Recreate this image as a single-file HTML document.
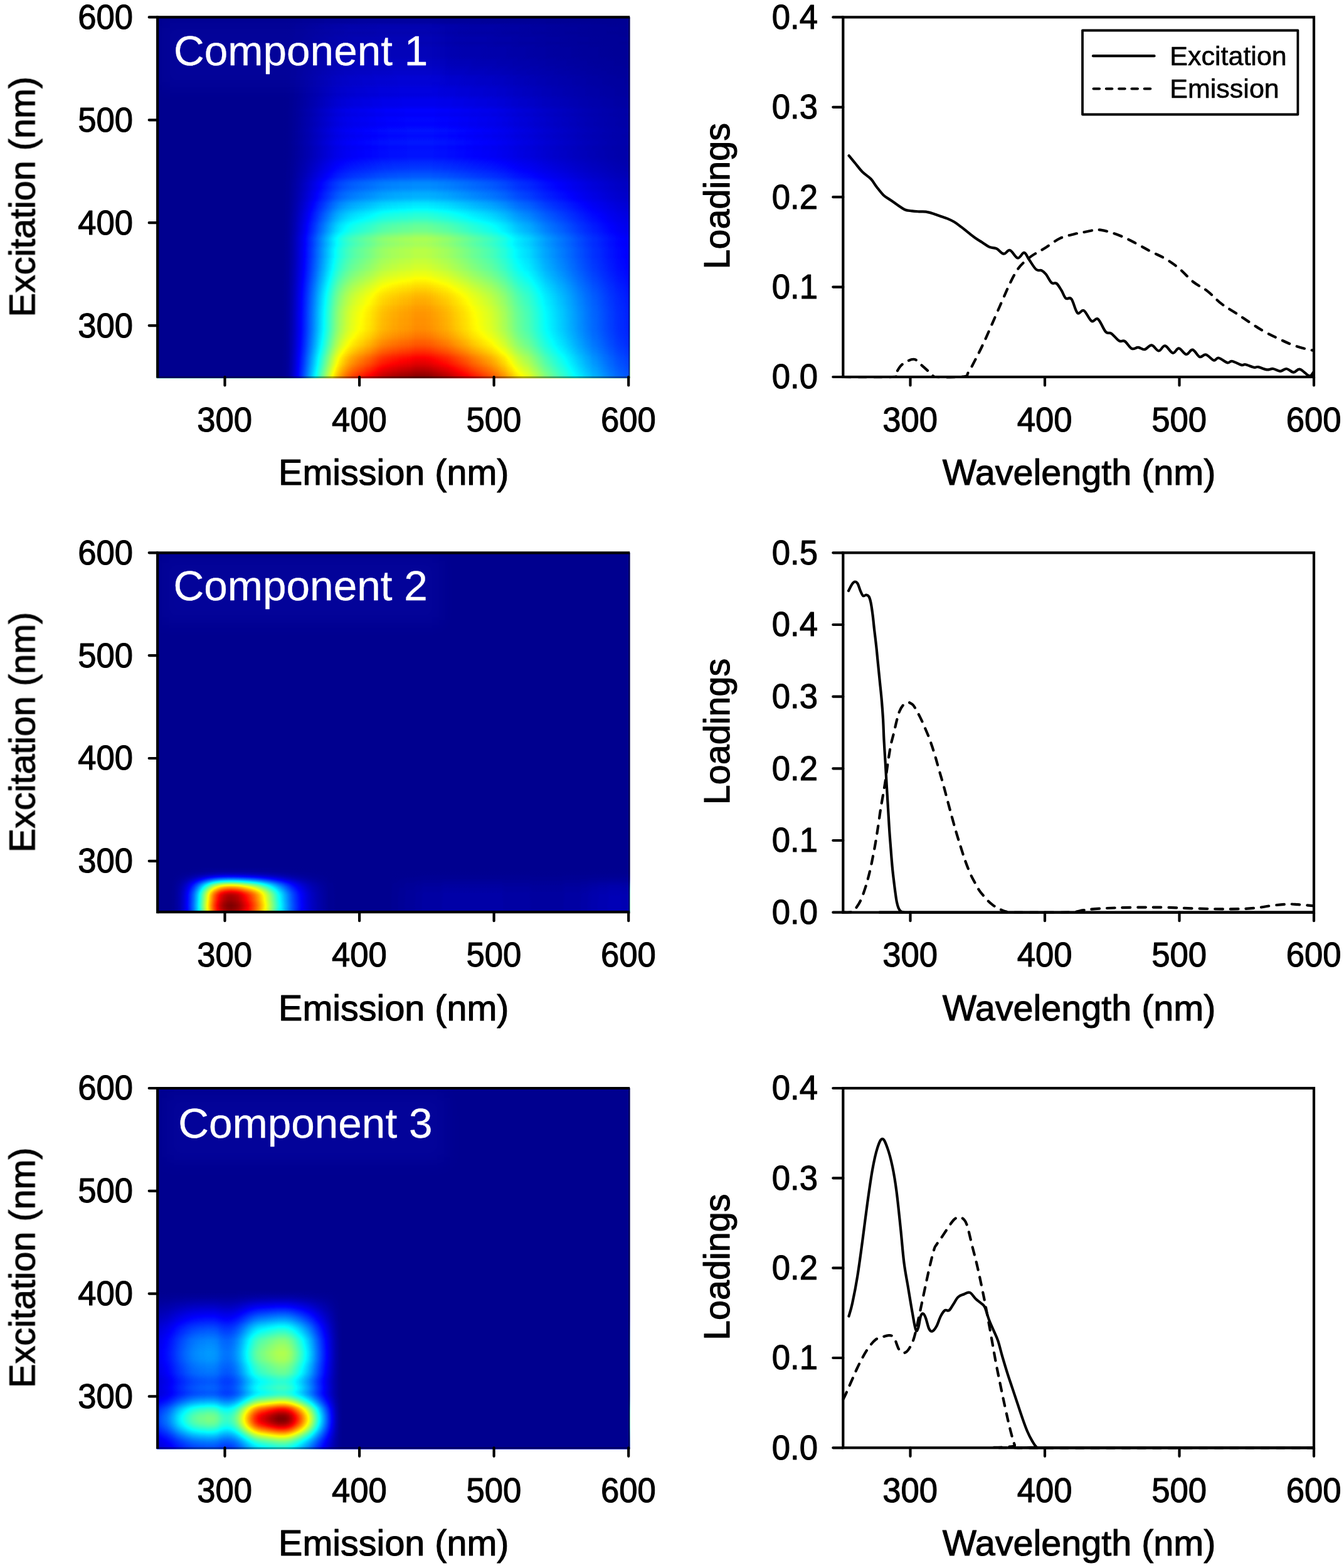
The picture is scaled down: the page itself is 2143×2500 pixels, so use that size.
<!DOCTYPE html>
<html lang="en"><head><meta charset="utf-8"><title>PARAFAC components</title>
<style>html,body{margin:0;padding:0;background:#fff}svg{display:block}text{font-family:"Liberation Sans", Arial, Helvetica, sans-serif;fill:#000;stroke:#000;stroke-width:1.1px;stroke-linejoin:round}.ax{stroke:#000;stroke-width:4.20;fill:none;stroke-linecap:round}.ln{stroke:#000;stroke-width:4.20;fill:none;stroke-linejoin:round;stroke-linecap:round}.ds{stroke:#000;stroke-width:4.20;fill:none;stroke-linejoin:round;stroke-linecap:round;stroke-dasharray:12.6 12}.tk{font-size:54px}.tt{font-size:57.5px}.cp{font-size:67.5px;fill:#fff;stroke:#fff;stroke-width:.3px}.lg{font-size:43px;stroke-width:.6px}</style></head><body>
<svg width="2143" height="2500" viewBox="0 0 2143 2500">
<defs>
<filter id="jet" x="0" y="0" width="100%" height="100%" color-interpolation-filters="sRGB"><feComponentTransfer><feFuncR type="table" tableValues="0 0 0 0 0 0 0 0 0 0 0 0 0 0 0 0 0 0 0 0 0 0 0 0 0.0625 0.125 0.1875 0.25 0.3125 0.375 0.4375 0.5 0.5625 0.625 0.6875 0.75 0.8125 0.875 0.9375 1 1 1 1 1 1 1 1 1 1 1 1 1 1 1 1 1 0.9375 0.875 0.8125 0.75 0.6875 0.625 0.5625 0.5"/><feFuncG type="table" tableValues="0 0 0 0 0 0 0 0 0.0625 0.125 0.1875 0.25 0.3125 0.375 0.4375 0.5 0.5625 0.625 0.6875 0.75 0.8125 0.875 0.9375 1 1 1 1 1 1 1 1 1 1 1 1 1 1 1 1 1 0.9375 0.875 0.8125 0.75 0.6875 0.625 0.5625 0.5 0.4375 0.375 0.3125 0.25 0.1875 0.125 0.0625 0 0 0 0 0 0 0 0 0"/><feFuncB type="table" tableValues="0.5625 0.625 0.6875 0.75 0.8125 0.875 0.9375 1 1 1 1 1 1 1 1 1 1 1 1 1 1 1 1 1 0.9375 0.875 0.8125 0.75 0.6875 0.625 0.5625 0.5 0.4375 0.375 0.3125 0.25 0.1875 0.125 0.0625 0 0 0 0 0 0 0 0 0 0 0 0 0 0 0 0 0 0 0 0 0 0 0 0 0"/></feComponentTransfer></filter>
<filter id="soft" filterUnits="userSpaceOnUse" x="0" y="0" width="2143" height="2500"><feGaussianBlur stdDeviation="0.6"/></filter>
<filter id="halo" x="-15%" y="-50%" width="130%" height="200%"><feGaussianBlur stdDeviation="14"/></filter>
<clipPath id="hc0"><rect x="253.2" y="29.4" width="751.0" height="573.6"/></clipPath>
<clipPath id="hc1"><rect x="253.2" y="883.3" width="751.0" height="573.4"/></clipPath>
<clipPath id="hc2"><rect x="253.2" y="1737.0" width="751.0" height="573.3"/></clipPath>
<linearGradient id="em0" x1="0" y1="0" x2="1" y2="0"><stop offset="0.0000" stop-opacity="1.0000"/><stop offset="0.2643" stop-opacity="1.0000"/><stop offset="0.2714" stop-opacity=".9961"/><stop offset="0.2786" stop-opacity=".9843"/><stop offset="0.2857" stop-opacity=".9569"/><stop offset="0.2929" stop-opacity=".9216"/><stop offset="0.3000" stop-opacity=".8784"/><stop offset="0.3071" stop-opacity=".8353"/><stop offset="0.3143" stop-opacity=".7882"/><stop offset="0.3214" stop-opacity=".7373"/><stop offset="0.3286" stop-opacity=".6863"/><stop offset="0.3357" stop-opacity=".6353"/><stop offset="0.3429" stop-opacity=".5804"/><stop offset="0.3500" stop-opacity=".5294"/><stop offset="0.3571" stop-opacity=".4784"/><stop offset="0.3643" stop-opacity=".4275"/><stop offset="0.3714" stop-opacity=".3765"/><stop offset="0.3786" stop-opacity=".3294"/><stop offset="0.3857" stop-opacity=".2902"/><stop offset="0.3929" stop-opacity=".2588"/><stop offset="0.4000" stop-opacity=".2314"/><stop offset="0.4071" stop-opacity=".2078"/><stop offset="0.4143" stop-opacity=".1882"/><stop offset="0.4214" stop-opacity=".1725"/><stop offset="0.4286" stop-opacity=".1569"/><stop offset="0.4357" stop-opacity=".1451"/><stop offset="0.4429" stop-opacity=".1294"/><stop offset="0.4500" stop-opacity=".1176"/><stop offset="0.4571" stop-opacity=".1020"/><stop offset="0.4643" stop-opacity=".0863"/><stop offset="0.4714" stop-opacity=".0706"/><stop offset="0.4786" stop-opacity=".0588"/><stop offset="0.4857" stop-opacity=".0510"/><stop offset="0.4929" stop-opacity=".0431"/><stop offset="0.5000" stop-opacity=".0353"/><stop offset="0.5071" stop-opacity=".0314"/><stop offset="0.5143" stop-opacity=".0235"/><stop offset="0.5214" stop-opacity=".0196"/><stop offset="0.5286" stop-opacity=".0157"/><stop offset="0.5357" stop-opacity=".0118"/><stop offset="0.5429" stop-opacity=".0039"/><stop offset="0.5500" stop-opacity=".0000"/><stop offset="0.5643" stop-opacity=".0000"/><stop offset="0.5714" stop-opacity=".0039"/><stop offset="0.5786" stop-opacity=".0078"/><stop offset="0.5857" stop-opacity=".0157"/><stop offset="0.5929" stop-opacity=".0235"/><stop offset="0.6000" stop-opacity=".0314"/><stop offset="0.6071" stop-opacity=".0392"/><stop offset="0.6143" stop-opacity=".0471"/><stop offset="0.6214" stop-opacity=".0588"/><stop offset="0.6286" stop-opacity=".0706"/><stop offset="0.6357" stop-opacity=".0824"/><stop offset="0.6429" stop-opacity=".0941"/><stop offset="0.6500" stop-opacity=".1059"/><stop offset="0.6571" stop-opacity=".1176"/><stop offset="0.6643" stop-opacity=".1333"/><stop offset="0.6714" stop-opacity=".1451"/><stop offset="0.6786" stop-opacity=".1569"/><stop offset="0.6857" stop-opacity=".1686"/><stop offset="0.6929" stop-opacity=".1804"/><stop offset="0.7000" stop-opacity=".1922"/><stop offset="0.7071" stop-opacity=".2039"/><stop offset="0.7143" stop-opacity=".2196"/><stop offset="0.7214" stop-opacity=".2353"/><stop offset="0.7286" stop-opacity=".2549"/><stop offset="0.7357" stop-opacity=".2706"/><stop offset="0.7429" stop-opacity=".2941"/><stop offset="0.7500" stop-opacity=".3137"/><stop offset="0.7571" stop-opacity=".3373"/><stop offset="0.7643" stop-opacity=".3569"/><stop offset="0.7714" stop-opacity=".3725"/><stop offset="0.7786" stop-opacity=".3882"/><stop offset="0.7857" stop-opacity=".4000"/><stop offset="0.7929" stop-opacity=".4196"/><stop offset="0.8000" stop-opacity=".4392"/><stop offset="0.8071" stop-opacity=".4588"/><stop offset="0.8143" stop-opacity=".4784"/><stop offset="0.8214" stop-opacity=".4980"/><stop offset="0.8286" stop-opacity=".5137"/><stop offset="0.8357" stop-opacity=".5294"/><stop offset="0.8429" stop-opacity=".5451"/><stop offset="0.8500" stop-opacity=".5608"/><stop offset="0.8571" stop-opacity=".5725"/><stop offset="0.8643" stop-opacity=".5882"/><stop offset="0.8714" stop-opacity=".6039"/><stop offset="0.8786" stop-opacity=".6196"/><stop offset="0.8857" stop-opacity=".6353"/><stop offset="0.8929" stop-opacity=".6510"/><stop offset="0.9000" stop-opacity=".6627"/><stop offset="0.9071" stop-opacity=".6784"/><stop offset="0.9143" stop-opacity=".6902"/><stop offset="0.9214" stop-opacity=".7059"/><stop offset="0.9286" stop-opacity=".7137"/><stop offset="0.9357" stop-opacity=".7255"/><stop offset="0.9429" stop-opacity=".7373"/><stop offset="0.9500" stop-opacity=".7490"/><stop offset="0.9571" stop-opacity=".7608"/><stop offset="0.9643" stop-opacity=".7686"/><stop offset="0.9714" stop-opacity=".7804"/><stop offset="0.9786" stop-opacity=".7882"/><stop offset="0.9857" stop-opacity=".7922"/><stop offset="0.9929" stop-opacity=".8000"/><stop offset="1.0000" stop-opacity=".8039"/></linearGradient>
<linearGradient id="ex0" x1="0" y1="0" x2="0" y2="1"><stop offset="0.0000" stop-color="rgb(5,5,5)"/><stop offset="0.0071" stop-color="rgb(3,3,3)"/><stop offset="0.0143" stop-color="rgb(3,3,3)"/><stop offset="0.0214" stop-color="rgb(6,6,6)"/><stop offset="0.0286" stop-color="rgb(7,7,7)"/><stop offset="0.0357" stop-color="rgb(7,7,7)"/><stop offset="0.0429" stop-color="rgb(6,6,6)"/><stop offset="0.0500" stop-color="rgb(7,7,7)"/><stop offset="0.0571" stop-color="rgb(8,8,8)"/><stop offset="0.0643" stop-color="rgb(8,8,8)"/><stop offset="0.0714" stop-color="rgb(7,7,7)"/><stop offset="0.0786" stop-color="rgb(8,8,8)"/><stop offset="0.0857" stop-color="rgb(9,9,9)"/><stop offset="0.1071" stop-color="rgb(9,9,9)"/><stop offset="0.1143" stop-color="rgb(10,10,10)"/><stop offset="0.1214" stop-color="rgb(11,11,11)"/><stop offset="0.1286" stop-color="rgb(11,11,11)"/><stop offset="0.1357" stop-color="rgb(12,12,12)"/><stop offset="0.1429" stop-color="rgb(13,13,13)"/><stop offset="0.1500" stop-color="rgb(14,14,14)"/><stop offset="0.1571" stop-color="rgb(14,14,14)"/><stop offset="0.1643" stop-color="rgb(16,16,16)"/><stop offset="0.1714" stop-color="rgb(17,17,17)"/><stop offset="0.1857" stop-color="rgb(17,17,17)"/><stop offset="0.1929" stop-color="rgb(19,19,19)"/><stop offset="0.2000" stop-color="rgb(20,20,20)"/><stop offset="0.2143" stop-color="rgb(20,20,20)"/><stop offset="0.2214" stop-color="rgb(22,22,22)"/><stop offset="0.2286" stop-color="rgb(24,24,24)"/><stop offset="0.2429" stop-color="rgb(24,24,24)"/><stop offset="0.2500" stop-color="rgb(26,26,26)"/><stop offset="0.2571" stop-color="rgb(29,29,29)"/><stop offset="0.2643" stop-color="rgb(28,28,28)"/><stop offset="0.2714" stop-color="rgb(27,27,27)"/><stop offset="0.2786" stop-color="rgb(29,29,29)"/><stop offset="0.2857" stop-color="rgb(30,30,30)"/><stop offset="0.2929" stop-color="rgb(29,29,29)"/><stop offset="0.3000" stop-color="rgb(29,29,29)"/><stop offset="0.3071" stop-color="rgb(31,31,31)"/><stop offset="0.3143" stop-color="rgb(33,33,33)"/><stop offset="0.3214" stop-color="rgb(32,32,32)"/><stop offset="0.3286" stop-color="rgb(31,31,31)"/><stop offset="0.3357" stop-color="rgb(32,32,32)"/><stop offset="0.3429" stop-color="rgb(34,34,34)"/><stop offset="0.3500" stop-color="rgb(34,34,34)"/><stop offset="0.3571" stop-color="rgb(32,32,32)"/><stop offset="0.3643" stop-color="rgb(32,32,32)"/><stop offset="0.3714" stop-color="rgb(33,33,33)"/><stop offset="0.3857" stop-color="rgb(33,33,33)"/><stop offset="0.3929" stop-color="rgb(35,35,35)"/><stop offset="0.4000" stop-color="rgb(38,38,38)"/><stop offset="0.4071" stop-color="rgb(40,40,40)"/><stop offset="0.4143" stop-color="rgb(42,42,42)"/><stop offset="0.4214" stop-color="rgb(44,44,44)"/><stop offset="0.4286" stop-color="rgb(47,47,47)"/><stop offset="0.4357" stop-color="rgb(50,50,50)"/><stop offset="0.4429" stop-color="rgb(52,52,52)"/><stop offset="0.4500" stop-color="rgb(57,57,57)"/><stop offset="0.4571" stop-color="rgb(62,62,62)"/><stop offset="0.4643" stop-color="rgb(64,64,64)"/><stop offset="0.4714" stop-color="rgb(64,64,64)"/><stop offset="0.4786" stop-color="rgb(67,67,67)"/><stop offset="0.4857" stop-color="rgb(71,71,71)"/><stop offset="0.4929" stop-color="rgb(73,73,73)"/><stop offset="0.5000" stop-color="rgb(74,74,74)"/><stop offset="0.5071" stop-color="rgb(79,79,79)"/><stop offset="0.5143" stop-color="rgb(85,85,85)"/><stop offset="0.5214" stop-color="rgb(88,88,88)"/><stop offset="0.5286" stop-color="rgb(91,91,91)"/><stop offset="0.5357" stop-color="rgb(96,96,96)"/><stop offset="0.5429" stop-color="rgb(101,101,101)"/><stop offset="0.5500" stop-color="rgb(104,104,104)"/><stop offset="0.5571" stop-color="rgb(107,107,107)"/><stop offset="0.5643" stop-color="rgb(111,111,111)"/><stop offset="0.5714" stop-color="rgb(116,116,116)"/><stop offset="0.5786" stop-color="rgb(119,119,119)"/><stop offset="0.5857" stop-color="rgb(121,121,121)"/><stop offset="0.5929" stop-color="rgb(123,123,123)"/><stop offset="0.6000" stop-color="rgb(128,128,128)"/><stop offset="0.6071" stop-color="rgb(133,133,133)"/><stop offset="0.6143" stop-color="rgb(137,137,137)"/><stop offset="0.6214" stop-color="rgb(136,136,136)"/><stop offset="0.6286" stop-color="rgb(135,135,135)"/><stop offset="0.6357" stop-color="rgb(137,137,137)"/><stop offset="0.6429" stop-color="rgb(140,140,140)"/><stop offset="0.6643" stop-color="rgb(140,140,140)"/><stop offset="0.6714" stop-color="rgb(143,143,143)"/><stop offset="0.6786" stop-color="rgb(144,144,144)"/><stop offset="0.6857" stop-color="rgb(146,146,146)"/><stop offset="0.6929" stop-color="rgb(147,147,147)"/><stop offset="0.7000" stop-color="rgb(149,149,149)"/><stop offset="0.7071" stop-color="rgb(152,152,152)"/><stop offset="0.7143" stop-color="rgb(154,154,154)"/><stop offset="0.7214" stop-color="rgb(157,157,157)"/><stop offset="0.7286" stop-color="rgb(160,160,160)"/><stop offset="0.7357" stop-color="rgb(163,163,163)"/><stop offset="0.7429" stop-color="rgb(166,166,166)"/><stop offset="0.7500" stop-color="rgb(169,169,169)"/><stop offset="0.7571" stop-color="rgb(171,171,171)"/><stop offset="0.7643" stop-color="rgb(174,174,174)"/><stop offset="0.7714" stop-color="rgb(176,176,176)"/><stop offset="0.7786" stop-color="rgb(178,178,178)"/><stop offset="0.7857" stop-color="rgb(179,179,179)"/><stop offset="0.7929" stop-color="rgb(180,180,180)"/><stop offset="0.8000" stop-color="rgb(182,182,182)"/><stop offset="0.8071" stop-color="rgb(183,183,183)"/><stop offset="0.8143" stop-color="rgb(184,184,184)"/><stop offset="0.8214" stop-color="rgb(185,185,185)"/><stop offset="0.8286" stop-color="rgb(185,185,185)"/><stop offset="0.8357" stop-color="rgb(186,186,186)"/><stop offset="0.8500" stop-color="rgb(186,186,186)"/><stop offset="0.8571" stop-color="rgb(187,187,187)"/><stop offset="0.8643" stop-color="rgb(187,187,187)"/><stop offset="0.8714" stop-color="rgb(189,189,189)"/><stop offset="0.8786" stop-color="rgb(191,191,191)"/><stop offset="0.8857" stop-color="rgb(193,193,193)"/><stop offset="0.8929" stop-color="rgb(196,196,196)"/><stop offset="0.9000" stop-color="rgb(199,199,199)"/><stop offset="0.9071" stop-color="rgb(201,201,201)"/><stop offset="0.9143" stop-color="rgb(205,205,205)"/><stop offset="0.9214" stop-color="rgb(209,209,209)"/><stop offset="0.9286" stop-color="rgb(213,213,213)"/><stop offset="0.9357" stop-color="rgb(218,218,218)"/><stop offset="0.9429" stop-color="rgb(223,223,223)"/><stop offset="0.9500" stop-color="rgb(226,226,226)"/><stop offset="0.9571" stop-color="rgb(229,229,229)"/><stop offset="0.9643" stop-color="rgb(233,233,233)"/><stop offset="0.9714" stop-color="rgb(238,238,238)"/><stop offset="0.9786" stop-color="rgb(242,242,242)"/><stop offset="0.9857" stop-color="rgb(247,247,247)"/><stop offset="0.9929" stop-color="rgb(252,252,252)"/><stop offset="1.0000" stop-color="rgb(255,255,255)"/></linearGradient>
<linearGradient id="em1" x1="0" y1="0" x2="1" y2="0"><stop offset="0.0000" stop-opacity="1.0000"/><stop offset="0.0286" stop-opacity="1.0000"/><stop offset="0.0357" stop-opacity=".9961"/><stop offset="0.0429" stop-opacity=".9843"/><stop offset="0.0500" stop-opacity=".9647"/><stop offset="0.0571" stop-opacity=".9333"/><stop offset="0.0643" stop-opacity=".8902"/><stop offset="0.0714" stop-opacity=".8353"/><stop offset="0.0786" stop-opacity=".7686"/><stop offset="0.0857" stop-opacity=".6863"/><stop offset="0.0929" stop-opacity=".5882"/><stop offset="0.1000" stop-opacity=".4863"/><stop offset="0.1071" stop-opacity=".3843"/><stop offset="0.1143" stop-opacity=".2824"/><stop offset="0.1214" stop-opacity=".1922"/><stop offset="0.1286" stop-opacity=".1216"/><stop offset="0.1357" stop-opacity=".0627"/><stop offset="0.1429" stop-opacity=".0275"/><stop offset="0.1500" stop-opacity=".0078"/><stop offset="0.1571" stop-opacity=".0000"/><stop offset="0.1643" stop-opacity=".0078"/><stop offset="0.1714" stop-opacity=".0235"/><stop offset="0.1786" stop-opacity=".0510"/><stop offset="0.1857" stop-opacity=".0863"/><stop offset="0.1929" stop-opacity=".1216"/><stop offset="0.2000" stop-opacity=".1608"/><stop offset="0.2071" stop-opacity=".2039"/><stop offset="0.2143" stop-opacity=".2549"/><stop offset="0.2214" stop-opacity=".3098"/><stop offset="0.2286" stop-opacity=".3686"/><stop offset="0.2357" stop-opacity=".4275"/><stop offset="0.2429" stop-opacity=".4863"/><stop offset="0.2500" stop-opacity=".5451"/><stop offset="0.2571" stop-opacity=".6039"/><stop offset="0.2643" stop-opacity=".6549"/><stop offset="0.2714" stop-opacity=".7059"/><stop offset="0.2786" stop-opacity=".7529"/><stop offset="0.2857" stop-opacity=".7961"/><stop offset="0.2929" stop-opacity=".8314"/><stop offset="0.3000" stop-opacity=".8627"/><stop offset="0.3071" stop-opacity=".8902"/><stop offset="0.3143" stop-opacity=".9137"/><stop offset="0.3214" stop-opacity=".9333"/><stop offset="0.3286" stop-opacity=".9490"/><stop offset="0.3357" stop-opacity=".9608"/><stop offset="0.3429" stop-opacity=".9725"/><stop offset="0.3500" stop-opacity=".9804"/><stop offset="0.3571" stop-opacity=".9882"/><stop offset="0.3643" stop-opacity=".9961"/><stop offset="0.3714" stop-opacity=".9961"/><stop offset="0.3786" stop-opacity="1.0000"/><stop offset="0.4929" stop-opacity="1.0000"/><stop offset="0.5000" stop-opacity=".9961"/><stop offset="0.5071" stop-opacity=".9961"/><stop offset="0.5143" stop-opacity=".9922"/><stop offset="0.5214" stop-opacity=".9922"/><stop offset="0.5286" stop-opacity=".9882"/><stop offset="0.5429" stop-opacity=".9882"/><stop offset="0.5500" stop-opacity=".9843"/><stop offset="0.5571" stop-opacity=".9843"/><stop offset="0.5643" stop-opacity=".9804"/><stop offset="0.6000" stop-opacity=".9804"/><stop offset="0.6071" stop-opacity=".9765"/><stop offset="0.7286" stop-opacity=".9765"/><stop offset="0.7357" stop-opacity=".9804"/><stop offset="0.7857" stop-opacity=".9804"/><stop offset="0.7929" stop-opacity=".9843"/><stop offset="0.8571" stop-opacity=".9843"/><stop offset="0.8643" stop-opacity=".9804"/><stop offset="0.8929" stop-opacity=".9804"/><stop offset="0.9000" stop-opacity=".9765"/><stop offset="0.9071" stop-opacity=".9765"/><stop offset="0.9143" stop-opacity=".9725"/><stop offset="0.9214" stop-opacity=".9686"/><stop offset="0.9286" stop-opacity=".9686"/><stop offset="0.9357" stop-opacity=".9647"/><stop offset="0.9500" stop-opacity=".9647"/><stop offset="0.9571" stop-opacity=".9608"/><stop offset="0.9786" stop-opacity=".9608"/><stop offset="0.9857" stop-opacity=".9647"/><stop offset="1.0000" stop-opacity=".9647"/></linearGradient>
<linearGradient id="ex1" x1="0" y1="0" x2="0" y2="1"><stop offset="0.0000" stop-color="rgb(0,0,0)"/><stop offset="0.8714" stop-color="rgb(0,0,0)"/><stop offset="0.8786" stop-color="rgb(1,1,1)"/><stop offset="0.8857" stop-color="rgb(4,4,4)"/><stop offset="0.8929" stop-color="rgb(14,14,14)"/><stop offset="0.9000" stop-color="rgb(34,34,34)"/><stop offset="0.9071" stop-color="rgb(66,66,66)"/><stop offset="0.9143" stop-color="rgb(107,107,107)"/><stop offset="0.9214" stop-color="rgb(149,149,149)"/><stop offset="0.9286" stop-color="rgb(182,182,182)"/><stop offset="0.9357" stop-color="rgb(207,207,207)"/><stop offset="0.9429" stop-color="rgb(229,229,229)"/><stop offset="0.9500" stop-color="rgb(242,242,242)"/><stop offset="0.9571" stop-color="rgb(246,246,246)"/><stop offset="0.9643" stop-color="rgb(248,248,248)"/><stop offset="0.9714" stop-color="rgb(252,252,252)"/><stop offset="0.9786" stop-color="rgb(255,255,255)"/><stop offset="0.9857" stop-color="rgb(254,254,254)"/><stop offset="0.9929" stop-color="rgb(251,251,251)"/><stop offset="1.0000" stop-color="rgb(247,247,247)"/></linearGradient>
<linearGradient id="em2" x1="0" y1="0" x2="1" y2="0"><stop offset="0.0000" stop-opacity=".8275"/><stop offset="0.0071" stop-opacity=".8118"/><stop offset="0.0143" stop-opacity=".7922"/><stop offset="0.0214" stop-opacity=".7725"/><stop offset="0.0286" stop-opacity=".7451"/><stop offset="0.0357" stop-opacity=".7137"/><stop offset="0.0429" stop-opacity=".6784"/><stop offset="0.0500" stop-opacity=".6471"/><stop offset="0.0571" stop-opacity=".6196"/><stop offset="0.0643" stop-opacity=".5922"/><stop offset="0.0714" stop-opacity=".5686"/><stop offset="0.0786" stop-opacity=".5490"/><stop offset="0.0857" stop-opacity=".5373"/><stop offset="0.0929" stop-opacity=".5255"/><stop offset="0.1000" stop-opacity=".5216"/><stop offset="0.1071" stop-opacity=".5137"/><stop offset="0.1143" stop-opacity=".5137"/><stop offset="0.1214" stop-opacity=".5176"/><stop offset="0.1286" stop-opacity=".5333"/><stop offset="0.1357" stop-opacity=".5608"/><stop offset="0.1429" stop-opacity=".5765"/><stop offset="0.1500" stop-opacity=".5804"/><stop offset="0.1571" stop-opacity=".5686"/><stop offset="0.1643" stop-opacity=".5412"/><stop offset="0.1714" stop-opacity=".4980"/><stop offset="0.1786" stop-opacity=".4392"/><stop offset="0.1857" stop-opacity=".3725"/><stop offset="0.1929" stop-opacity=".3020"/><stop offset="0.2000" stop-opacity=".2353"/><stop offset="0.2071" stop-opacity=".1765"/><stop offset="0.2143" stop-opacity=".1333"/><stop offset="0.2214" stop-opacity=".1020"/><stop offset="0.2286" stop-opacity=".0824"/><stop offset="0.2357" stop-opacity=".0588"/><stop offset="0.2429" stop-opacity=".0392"/><stop offset="0.2500" stop-opacity=".0196"/><stop offset="0.2571" stop-opacity=".0039"/><stop offset="0.2643" stop-opacity=".0000"/><stop offset="0.2714" stop-opacity=".0039"/><stop offset="0.2786" stop-opacity=".0275"/><stop offset="0.2857" stop-opacity=".0667"/><stop offset="0.2929" stop-opacity=".1216"/><stop offset="0.3000" stop-opacity=".1804"/><stop offset="0.3071" stop-opacity=".2431"/><stop offset="0.3143" stop-opacity=".3137"/><stop offset="0.3214" stop-opacity=".3843"/><stop offset="0.3286" stop-opacity=".4627"/><stop offset="0.3357" stop-opacity=".5451"/><stop offset="0.3429" stop-opacity=".6235"/><stop offset="0.3500" stop-opacity=".6980"/><stop offset="0.3571" stop-opacity=".7686"/><stop offset="0.3643" stop-opacity=".8353"/><stop offset="0.3714" stop-opacity=".8980"/><stop offset="0.3786" stop-opacity=".9529"/><stop offset="0.3857" stop-opacity=".9882"/><stop offset="0.3929" stop-opacity="1.0000"/><stop offset="1.0000" stop-opacity="1.0000"/></linearGradient>
<linearGradient id="ex2" x1="0" y1="0" x2="0" y2="1"><stop offset="0.0000" stop-color="rgb(0,0,0)"/><stop offset="0.5571" stop-color="rgb(0,0,0)"/><stop offset="0.5643" stop-color="rgb(1,1,1)"/><stop offset="0.5714" stop-color="rgb(3,3,3)"/><stop offset="0.5786" stop-color="rgb(6,6,6)"/><stop offset="0.5857" stop-color="rgb(11,11,11)"/><stop offset="0.5929" stop-color="rgb(17,17,17)"/><stop offset="0.6000" stop-color="rgb(24,24,24)"/><stop offset="0.6071" stop-color="rgb(31,31,31)"/><stop offset="0.6143" stop-color="rgb(39,39,39)"/><stop offset="0.6214" stop-color="rgb(47,47,47)"/><stop offset="0.6286" stop-color="rgb(55,55,55)"/><stop offset="0.6357" stop-color="rgb(63,63,63)"/><stop offset="0.6429" stop-color="rgb(71,71,71)"/><stop offset="0.6500" stop-color="rgb(80,80,80)"/><stop offset="0.6571" stop-color="rgb(89,89,89)"/><stop offset="0.6643" stop-color="rgb(97,97,97)"/><stop offset="0.6714" stop-color="rgb(104,104,104)"/><stop offset="0.6786" stop-color="rgb(110,110,110)"/><stop offset="0.6857" stop-color="rgb(117,117,117)"/><stop offset="0.6929" stop-color="rgb(123,123,123)"/><stop offset="0.7000" stop-color="rgb(128,128,128)"/><stop offset="0.7071" stop-color="rgb(130,130,130)"/><stop offset="0.7143" stop-color="rgb(133,133,133)"/><stop offset="0.7214" stop-color="rgb(135,135,135)"/><stop offset="0.7286" stop-color="rgb(137,137,137)"/><stop offset="0.7357" stop-color="rgb(138,138,138)"/><stop offset="0.7429" stop-color="rgb(137,137,137)"/><stop offset="0.7500" stop-color="rgb(136,136,136)"/><stop offset="0.7571" stop-color="rgb(133,133,133)"/><stop offset="0.7643" stop-color="rgb(129,129,129)"/><stop offset="0.7714" stop-color="rgb(126,126,126)"/><stop offset="0.7786" stop-color="rgb(123,123,123)"/><stop offset="0.7857" stop-color="rgb(121,121,121)"/><stop offset="0.7929" stop-color="rgb(117,117,117)"/><stop offset="0.8000" stop-color="rgb(111,111,111)"/><stop offset="0.8071" stop-color="rgb(106,106,106)"/><stop offset="0.8143" stop-color="rgb(104,104,104)"/><stop offset="0.8214" stop-color="rgb(106,106,106)"/><stop offset="0.8286" stop-color="rgb(109,109,109)"/><stop offset="0.8357" stop-color="rgb(107,107,107)"/><stop offset="0.8429" stop-color="rgb(104,104,104)"/><stop offset="0.8500" stop-color="rgb(109,109,109)"/><stop offset="0.8571" stop-color="rgb(123,123,123)"/><stop offset="0.8643" stop-color="rgb(140,140,140)"/><stop offset="0.8714" stop-color="rgb(161,161,161)"/><stop offset="0.8786" stop-color="rgb(185,185,185)"/><stop offset="0.8857" stop-color="rgb(210,210,210)"/><stop offset="0.8929" stop-color="rgb(228,228,228)"/><stop offset="0.9000" stop-color="rgb(241,241,241)"/><stop offset="0.9071" stop-color="rgb(251,251,251)"/><stop offset="0.9143" stop-color="rgb(255,255,255)"/><stop offset="0.9214" stop-color="rgb(254,254,254)"/><stop offset="0.9286" stop-color="rgb(247,247,247)"/><stop offset="0.9357" stop-color="rgb(235,235,235)"/><stop offset="0.9429" stop-color="rgb(218,218,218)"/><stop offset="0.9500" stop-color="rgb(199,199,199)"/><stop offset="0.9571" stop-color="rgb(178,178,178)"/><stop offset="0.9643" stop-color="rgb(158,158,158)"/><stop offset="0.9714" stop-color="rgb(140,140,140)"/><stop offset="0.9786" stop-color="rgb(125,125,125)"/><stop offset="0.9857" stop-color="rgb(113,113,113)"/><stop offset="0.9929" stop-color="rgb(103,103,103)"/><stop offset="1.0000" stop-color="rgb(95,95,95)"/></linearGradient>
</defs>
<rect width="2143" height="2500" fill="#fff"/>
<g filter="url(#jet)"><rect x="249.7" y="27.4" width="754.6" height="575.8" fill="url(#ex0)"/><rect x="249.7" y="27.4" width="754.6" height="575.8" fill="url(#em0)"/></g>
<g clip-path="url(#hc0)"><rect x="255.0" y="31.8" width="450" height="112" fill="#2222ff" opacity=".09" filter="url(#halo)"/></g>
<g filter="url(#jet)"><rect x="249.7" y="881.3" width="754.6" height="574.2" fill="url(#ex1)"/><rect x="249.7" y="881.3" width="754.6" height="574.2" fill="url(#em1)"/></g>
<g clip-path="url(#hc1)"><rect x="254.5" y="885.1" width="450" height="112" fill="#2222ff" opacity=".09" filter="url(#halo)"/></g>
<g filter="url(#jet)"><rect x="249.7" y="1735.0" width="754.6" height="575.5" fill="url(#ex2)"/><rect x="249.7" y="1735.0" width="754.6" height="575.5" fill="url(#em2)"/></g>
<g clip-path="url(#hc2)"><rect x="262.2" y="1741.5" width="450" height="112" fill="#2222ff" opacity=".09" filter="url(#halo)"/></g>
<g filter="url(#soft)">
<path class="ax" style="stroke-linecap:butt;stroke-width:3;opacity:.35" d="M251.2 601.6H1004.2"/>
<path class="ax" style="stroke-linecap:butt;stroke-width:2.4;opacity:.4" d="M1003.4 27.4V602.5"/>
<path class="ax" style="stroke-linecap:butt" d="M251.2 602.6V27.4"/>
<path class="ax" style="stroke-linecap:butt" d="M249.4 27.4H1004.2"/>
<path class="ax" d="M358.5 601.0v13.5M251.2 519.1h-13.5M573.1 601.0v13.5M251.2 355.2h-13.5M787.6 601.0v13.5M251.2 191.3h-13.5M1002.2 601.0v13.5M251.2 27.4h-13.5"/>
<text class="tk" transform="translate(358.2 687.6) scale(0.975 1.015)" text-anchor="middle">300</text>
<text class="tk" transform="translate(212.0 537.5) scale(0.975 1.015)" text-anchor="end">300</text>
<text class="tk" transform="translate(572.8 687.6) scale(0.975 1.015)" text-anchor="middle">400</text>
<text class="tk" transform="translate(212.0 373.6) scale(0.975 1.015)" text-anchor="end">400</text>
<text class="tk" transform="translate(787.3 687.6) scale(0.975 1.015)" text-anchor="middle">500</text>
<text class="tk" transform="translate(212.0 209.7) scale(0.975 1.015)" text-anchor="end">500</text>
<text class="tk" transform="translate(1001.9 687.6) scale(0.975 1.015)" text-anchor="middle">600</text>
<text class="tk" transform="translate(212.0 45.8) scale(0.975 1.015)" text-anchor="end">600</text>
<text class="tt" x="627.8" y="773.0" text-anchor="middle">Emission (nm)</text>
<text class="tt" transform="translate(55.4 313.7) rotate(-90)" text-anchor="middle">Excitation (nm)</text>
<text class="cp" x="277.0" y="103.8">Component 1</text>
<rect class="ax" style="stroke-linejoin:miter" x="1344.3" y="27.4" width="750.7" height="573.6"/>
<path class="ax" d="M1451.5 601.0v13.5M1666.0 601.0v13.5M1880.5 601.0v13.5M2095.0 601.0v13.5M1344.3 601.0h-16.0M1344.3 457.6h-16.0M1344.3 314.2h-16.0M1344.3 170.8h-16.0M1344.3 27.4h-16.0"/>
<text class="tk" transform="translate(1451.2 687.6) scale(0.975 1.015)" text-anchor="middle">300</text>
<text class="tk" transform="translate(1665.7 687.6) scale(0.975 1.015)" text-anchor="middle">400</text>
<text class="tk" transform="translate(1880.2 687.6) scale(0.975 1.015)" text-anchor="middle">500</text>
<text class="tk" transform="translate(2094.7 687.6) scale(0.975 1.015)" text-anchor="middle">600</text>
<text class="tk" transform="translate(1304.0 619.4) scale(0.975 1.015)" text-anchor="end">0.0</text>
<text class="tk" transform="translate(1304.0 476.0) scale(0.975 1.015)" text-anchor="end">0.1</text>
<text class="tk" transform="translate(1304.0 332.6) scale(0.975 1.015)" text-anchor="end">0.2</text>
<text class="tk" transform="translate(1304.0 189.2) scale(0.975 1.015)" text-anchor="end">0.3</text>
<text class="tk" transform="translate(1304.0 45.8) scale(0.975 1.015)" text-anchor="end">0.4</text>
<text class="tt" x="1720.5" y="773.0" text-anchor="middle">Wavelength (nm)</text>
<text class="tt" transform="translate(1162.7 312.7) rotate(-90)" text-anchor="middle">Loadings</text>
<path class="ln" d="M1353.6 248.2C1355.5 250.5 1359.9 255.8 1363.8 260.5C1367.7 265.2 1370.5 269.5 1375 274C1379.5 278.5 1384.5 281 1388.6 285.3C1392.7 289.6 1393.9 293 1397.6 297.7C1401.3 302.4 1404.7 307.3 1408.8 311.2C1412.9 315.1 1415.9 316.1 1420 319C1424.1 321.9 1427.3 324.2 1431.4 327C1435.5 329.8 1438.5 332.5 1442.6 334.2C1446.7 335.9 1449.8 335.8 1453.9 336.4C1458 337 1461 337.1 1465.1 337.3C1469.2 337.5 1472.3 337 1476.4 337.6C1480.5 338.2 1483.6 339.2 1487.7 340.5C1491.8 341.8 1494.8 343.1 1498.9 344.5C1503 345.9 1506.1 346.7 1510.2 348.4C1514.3 350.1 1517.3 351.3 1521.4 353.8C1525.5 356.3 1528.6 358.8 1532.7 361.9C1536.8 365 1539.9 367.7 1544 370.9C1548.1 374.1 1551.1 376.6 1555.2 379.5C1559.3 382.4 1562.4 384.1 1566.5 386.7C1570.6 389.3 1573.6 392.1 1577.7 393.9C1581.8 395.7 1584.9 394.4 1589 396.4C1593.1 398.4 1596.4 404.2 1600.3 404.7C1604.2 405.2 1606.3 397.8 1610.4 399C1614.5 400.2 1618.7 410.7 1622.8 411.4C1626.9 412.1 1629.6 402.5 1632.9 402.9C1636.2 403.3 1637.3 408.8 1640.8 413.7C1644.3 418.6 1648.3 426.3 1652 429.5C1655.7 432.7 1658.1 429.9 1661 431.3C1663.9 432.7 1664.9 433.7 1667.8 437.3C1670.7 440.9 1673.7 448.2 1676.8 450.9C1679.9 453.6 1681.8 449.7 1684.7 452C1687.6 454.3 1689.9 458.9 1692.6 463.2C1695.3 467.5 1696.5 473.1 1699.4 475.6C1702.3 478.1 1705 472.5 1708.4 476.8C1711.8 481.1 1714.4 495.6 1718 499C1721.6 502.4 1724.1 492.8 1728.2 495.2C1732.3 497.6 1736.4 509.4 1740.5 511.9C1744.6 514.4 1746.6 505.6 1750.7 508.7C1754.8 511.8 1759.1 524.8 1763 529C1766.9 533.2 1768.1 529.1 1772 531.7C1775.9 534.3 1780.6 541.1 1784.5 543.4C1788.4 545.7 1789.8 541.8 1793.5 544.1C1797.2 546.4 1800.8 554 1804.7 555.8C1808.6 557.6 1811.2 553.5 1814.9 553.8C1818.6 554.1 1821.1 557.8 1825 557.2C1828.9 556.6 1832.2 550 1836.3 550.4C1840.4 550.8 1843.6 559.2 1847.5 559.4C1851.4 559.6 1853.6 550.7 1857.7 551.3C1861.8 551.9 1866 562 1870 562.8C1874 563.6 1875.8 555 1879.7 555.4C1883.6 555.8 1887.4 564.6 1891.4 565C1895.4 565.4 1897.7 556.9 1901.6 557.6C1905.5 558.3 1908.9 567.5 1912.8 568.9C1916.7 570.3 1918.9 564.5 1923 565.5C1927.1 566.5 1931.7 573.5 1935.4 574.5C1939.1 575.5 1939.3 570 1943.2 570.7C1947.1 571.4 1952.9 577.3 1956.8 578.3C1960.7 579.3 1960.5 575.3 1964.6 576C1968.7 576.7 1975.4 580.9 1979.3 581.9C1983.2 582.9 1982.3 580.6 1986 581.3C1989.7 582 1995.8 585.1 1999.5 585.8C2003.2 586.5 2002.6 584.4 2006.3 585.1C2010 585.8 2015.5 588.9 2019.8 589.4C2024.1 589.9 2026.1 587.6 2030 588C2033.9 588.4 2037.3 591.8 2041.2 591.8C2045.1 591.8 2047.5 587.7 2051.4 588C2055.3 588.3 2058.7 593.5 2062.6 593.6C2066.5 593.7 2068.2 587.7 2072.7 588.7C2077.2 589.7 2083.5 598.4 2087.4 599.3C2091.3 600.2 2092.9 594.6 2094.1 593.6"/>
<path class="ds" d="M1344.3 601C1358.6 601 1407.2 601.5 1422.3 601C1437.4 600.5 1424.3 601.4 1426.8 598.2C1429.3 595 1432.2 587.7 1435.9 583.6C1439.6 579.5 1443 577.6 1447.1 575.7C1451.2 573.8 1454.3 571.8 1458.4 573C1462.5 574.2 1465.5 578.8 1469.6 582.4C1473.7 586 1477.6 589.5 1480.9 592.6C1484.2 595.7 1485.7 597.8 1487.7 599.3C1489.7 600.8 1483.1 600.8 1492 601C1500.9 601.2 1526.5 601.8 1536 600.5C1545.5 599.2 1540.5 598.7 1544 593.7C1547.5 588.7 1551.1 581.2 1555.2 573.4C1559.3 565.6 1562.4 559.6 1566.5 550.9C1570.6 542.2 1573.6 535.4 1577.7 526.1C1581.8 516.8 1584.9 509.7 1589 500.2C1593.1 490.7 1596.2 483.6 1600.3 474.3C1604.4 465 1607.4 457.8 1611.5 449.5C1615.6 441.2 1618.7 435.3 1622.8 429.3C1626.9 423.3 1629.9 420.8 1634 416.9C1638.1 413 1641.2 410.8 1645.3 407.9C1649.4 405 1652.5 403.6 1656.6 401.1C1660.7 398.6 1661.6 398.4 1667.8 394.5C1674 390.6 1682.1 383.8 1690.4 379.9C1698.7 376 1707 374.8 1712.9 373.2C1718.8 371.6 1716.6 372.6 1722.5 371.4C1728.4 370.2 1738.8 367.6 1745 366.8C1751.2 366 1752.2 366.3 1756.3 366.8C1760.4 367.3 1761.4 367.6 1767.6 369.5C1773.8 371.4 1781.8 373.9 1790 377.4C1798.2 380.9 1804.3 384.4 1812.6 388.7C1820.9 393 1826.8 396.8 1835.1 401.1C1843.4 405.4 1849.4 407.4 1857.7 412.3C1866 417.2 1872 421.3 1880.2 428.1C1888.5 434.9 1894.5 442.9 1902.7 449.5C1911 456.1 1917 457.7 1925.2 464.1C1933.5 470.5 1939.4 478 1947.7 484.4C1956 490.8 1962 493.6 1970.3 499C1978.6 504.4 1984.5 508.7 1992.8 514.1C2001 519.5 2007 523.6 2015.3 528.3C2023.5 533 2029.5 535.7 2037.8 539.6C2046.1 543.5 2052.1 546.6 2060.4 549.7C2068.7 552.8 2076.7 554.9 2082.9 556.5C2089.1 558.1 2092 558.3 2094 558.7"/>
<path class="ax" style="stroke-linecap:butt" d="M251.2 1454.2H1004.2"/>
<path class="ax" style="stroke-linecap:butt;stroke-width:2.4;opacity:.4" d="M1003.4 881.3V1456.2"/>
<path class="ax" style="stroke-linecap:butt" d="M251.2 1456.3V881.3"/>
<path class="ax" style="stroke-linecap:butt" d="M249.4 881.3H1004.2"/>
<path class="ax" d="M358.5 1454.7v13.5M251.2 1372.8h-13.5M573.1 1454.7v13.5M251.2 1209.0h-13.5M787.6 1454.7v13.5M251.2 1045.1h-13.5M1002.2 1454.7v13.5M251.2 881.3h-13.5"/>
<text class="tk" transform="translate(358.2 1541.3) scale(0.975 1.015)" text-anchor="middle">300</text>
<text class="tk" transform="translate(212.0 1391.2) scale(0.975 1.015)" text-anchor="end">300</text>
<text class="tk" transform="translate(572.8 1541.3) scale(0.975 1.015)" text-anchor="middle">400</text>
<text class="tk" transform="translate(212.0 1227.4) scale(0.975 1.015)" text-anchor="end">400</text>
<text class="tk" transform="translate(787.3 1541.3) scale(0.975 1.015)" text-anchor="middle">500</text>
<text class="tk" transform="translate(212.0 1063.5) scale(0.975 1.015)" text-anchor="end">500</text>
<text class="tk" transform="translate(1001.9 1541.3) scale(0.975 1.015)" text-anchor="middle">600</text>
<text class="tk" transform="translate(212.0 899.7) scale(0.975 1.015)" text-anchor="end">600</text>
<text class="tt" x="627.8" y="1626.7" text-anchor="middle">Emission (nm)</text>
<text class="tt" transform="translate(55.4 1167.5) rotate(-90)" text-anchor="middle">Excitation (nm)</text>
<text class="cp" x="276.5" y="957.1">Component 2</text>
<rect class="ax" style="stroke-linejoin:miter" x="1344.3" y="881.3" width="750.7" height="573.4"/>
<path class="ax" d="M1451.5 1454.7v13.5M1666.0 1454.7v13.5M1880.5 1454.7v13.5M2095.0 1454.7v13.5M1344.3 1454.7h-16.0M1344.3 1340.0h-16.0M1344.3 1225.3h-16.0M1344.3 1110.7h-16.0M1344.3 996.0h-16.0M1344.3 881.3h-16.0"/>
<text class="tk" transform="translate(1451.2 1541.3) scale(0.975 1.015)" text-anchor="middle">300</text>
<text class="tk" transform="translate(1665.7 1541.3) scale(0.975 1.015)" text-anchor="middle">400</text>
<text class="tk" transform="translate(1880.2 1541.3) scale(0.975 1.015)" text-anchor="middle">500</text>
<text class="tk" transform="translate(2094.7 1541.3) scale(0.975 1.015)" text-anchor="middle">600</text>
<text class="tk" transform="translate(1304.0 1473.1) scale(0.975 1.015)" text-anchor="end">0.0</text>
<text class="tk" transform="translate(1304.0 1358.4) scale(0.975 1.015)" text-anchor="end">0.1</text>
<text class="tk" transform="translate(1304.0 1243.7) scale(0.975 1.015)" text-anchor="end">0.2</text>
<text class="tk" transform="translate(1304.0 1129.1) scale(0.975 1.015)" text-anchor="end">0.3</text>
<text class="tk" transform="translate(1304.0 1014.4) scale(0.975 1.015)" text-anchor="end">0.4</text>
<text class="tk" transform="translate(1304.0 899.7) scale(0.975 1.015)" text-anchor="end">0.5</text>
<text class="tt" x="1720.5" y="1626.7" text-anchor="middle">Wavelength (nm)</text>
<text class="tt" transform="translate(1162.7 1166.5) rotate(-90)" text-anchor="middle">Loadings</text>
<path class="ln" d="M1353 942C1354.1 940 1356.9 933.8 1358.8 931.1C1360.7 928.4 1361.6 927.6 1363.2 927.5C1364.8 927.4 1365.9 927.7 1367.5 930.4C1369.1 933.1 1370.3 938.4 1371.9 942C1373.5 945.6 1374.5 948.8 1376.2 950C1377.9 951.2 1379.6 948.2 1381.3 948.5C1383 948.8 1384.3 949.1 1385.6 951.4C1386.9 953.7 1387.4 955.6 1388.5 960.8C1389.6 966 1390.3 971.4 1391.4 979.6C1392.5 987.8 1393.2 996.4 1394.3 1005.7C1395.4 1015 1396.1 1020.5 1397.2 1030.3C1398.3 1040.1 1399 1048.7 1400.1 1059.3C1401.2 1069.9 1401.9 1077.6 1403 1088.2C1404.1 1098.8 1405 1106.6 1405.9 1117.2C1406.8 1127.8 1407.3 1134.6 1408 1146.1C1408.7 1157.6 1408.8 1167.1 1409.5 1180C1410.2 1192.9 1410.9 1202.9 1411.7 1216.2C1412.5 1229.5 1413 1239.1 1413.8 1252.4C1414.6 1265.7 1415.2 1275.3 1416 1288.6C1416.8 1301.9 1417.4 1312.9 1418.2 1324.8C1419 1336.7 1419.6 1343.1 1420.4 1353.7C1421.2 1364.3 1421.9 1373.1 1422.8 1382.7C1423.7 1392.3 1424.5 1398.5 1425.4 1405.9C1426.3 1413.3 1426.8 1417.4 1427.6 1423.2C1428.4 1429 1428.9 1433.2 1429.8 1437.7C1430.7 1442.2 1431.5 1445 1432.7 1447.8C1433.9 1450.6 1434.7 1451.7 1436.3 1452.9C1437.9 1454.1 1437 1454.1 1441.3 1454.4C1445.6 1454.7 1340.2 1454.6 1460 1454.7C1579.8 1454.8 1978.6 1454.7 2095 1454.7"/>
<path class="ds" d="M1344.3 1454.7C1347 1454.5 1355.2 1455.4 1359.3 1453.6C1363.4 1451.8 1364.2 1448.7 1366.8 1445C1369.4 1441.3 1371 1438.5 1373.3 1433.4C1375.6 1428.3 1377.2 1423 1379.1 1417.4C1381 1411.8 1381.8 1408.8 1383.4 1403C1385 1397.2 1386.3 1392 1387.8 1385.6C1389.3 1379.2 1390.1 1374.8 1391.4 1368.2C1392.7 1361.6 1393.8 1356 1395 1349.4C1396.2 1342.8 1396.8 1338.6 1397.9 1332C1399 1325.4 1399.7 1320.4 1400.8 1313.2C1401.9 1306 1402.6 1299.8 1403.7 1292.9C1404.8 1286 1405.5 1281.8 1406.6 1275.6C1407.7 1269.4 1408.4 1265.4 1409.5 1259C1410.6 1252.6 1411.3 1248.1 1412.4 1240.8C1413.5 1233.5 1414.2 1226.5 1415.3 1219.1C1416.4 1211.7 1417.2 1206.4 1418.2 1200.3C1419.2 1194.2 1419.5 1192 1420.8 1186C1422.1 1180 1423.8 1174.6 1425.4 1167.8C1427.1 1161 1428.2 1155.1 1429.8 1149C1431.4 1142.9 1432.2 1139 1434.1 1134.5C1436 1130 1437.5 1127.1 1439.9 1124.4C1442.3 1121.7 1444.6 1120.2 1447.1 1119.8C1449.6 1119.4 1451.5 1121 1453.5 1122.3C1455.5 1123.6 1455.5 1123 1457.9 1126.8C1460.3 1130.6 1463.5 1136.4 1466.8 1142.9C1470.1 1149.4 1472.7 1155.6 1475.7 1162.5C1478.7 1169.4 1480.3 1173.2 1482.9 1180.4C1485.5 1187.6 1487.4 1193.3 1490 1201.8C1492.6 1210.3 1494.5 1217.6 1497.1 1226.8C1499.7 1236 1501.7 1242.3 1504.3 1251.8C1506.9 1261.3 1508.8 1268.8 1511.4 1278.6C1514 1288.4 1516 1295.9 1518.6 1305.4C1521.2 1314.9 1523.1 1321.6 1525.7 1330.4C1528.3 1339.2 1530.3 1345.4 1532.9 1353.6C1535.5 1361.8 1537.4 1367.8 1540 1375C1542.6 1382.2 1544.5 1387 1547.1 1392.9C1549.7 1398.8 1551.7 1402.2 1554.3 1407.1C1556.9 1412 1558.8 1415.7 1561.4 1419.6C1564 1423.5 1566 1425.5 1568.6 1428.6C1571.2 1431.7 1573.1 1434 1575.7 1436.6C1578.3 1439.2 1580.3 1440.9 1582.9 1442.9C1585.5 1444.9 1587.4 1445.8 1590 1447.3C1592.6 1448.8 1594.4 1449.7 1597.1 1450.9C1599.8 1452.1 1601.5 1452.9 1604.8 1453.6C1608.1 1454.3 1597.2 1454.5 1615 1454.7C1632.8 1454.9 1681.1 1455.2 1701.8 1454.6C1722.5 1454 1718.2 1452.3 1727.7 1451.2C1737.2 1450.1 1739.4 1449.4 1753.6 1448.6C1767.8 1447.8 1786.4 1447.1 1805.4 1446.8C1824.4 1446.5 1838.2 1446.5 1857.2 1446.8C1876.2 1447.1 1890 1448.1 1909 1448.6C1928 1449.1 1944.2 1449.5 1960.8 1449.4C1977.4 1449.3 1987.7 1448.9 1999.6 1447.9C2011.5 1446.9 2016 1445.4 2025.5 1444.2C2035 1443 2043.3 1442 2051.4 1441.6C2059.5 1441.2 2062 1441.7 2069.6 1442.2C2077.2 1442.7 2088.6 1443.8 2092.9 1444.2"/>
<path class="ax" style="stroke-linecap:butt;stroke-width:3;opacity:.35" d="M251.2 2308.9H1004.2"/>
<path class="ax" style="stroke-linecap:butt;stroke-width:2.4;opacity:.4" d="M1003.4 1735.0V2309.8"/>
<path class="ax" style="stroke-linecap:butt" d="M251.2 2309.9V1735.0"/>
<path class="ax" style="stroke-linecap:butt" d="M249.4 1735.0H1004.2"/>
<path class="ax" d="M358.5 2308.3v13.5M251.2 2226.4h-13.5M573.1 2308.3v13.5M251.2 2062.6h-13.5M787.6 2308.3v13.5M251.2 1898.8h-13.5M1002.2 2308.3v13.5M251.2 1735.0h-13.5"/>
<text class="tk" transform="translate(358.2 2394.9) scale(0.975 1.015)" text-anchor="middle">300</text>
<text class="tk" transform="translate(212.0 2244.8) scale(0.975 1.015)" text-anchor="end">300</text>
<text class="tk" transform="translate(572.8 2394.9) scale(0.975 1.015)" text-anchor="middle">400</text>
<text class="tk" transform="translate(212.0 2081.0) scale(0.975 1.015)" text-anchor="end">400</text>
<text class="tk" transform="translate(787.3 2394.9) scale(0.975 1.015)" text-anchor="middle">500</text>
<text class="tk" transform="translate(212.0 1917.2) scale(0.975 1.015)" text-anchor="end">500</text>
<text class="tk" transform="translate(1001.9 2394.9) scale(0.975 1.015)" text-anchor="middle">600</text>
<text class="tk" transform="translate(212.0 1753.4) scale(0.975 1.015)" text-anchor="end">600</text>
<text class="tt" x="627.8" y="2480.3" text-anchor="middle">Emission (nm)</text>
<text class="tt" transform="translate(55.4 2021.2) rotate(-90)" text-anchor="middle">Excitation (nm)</text>
<text class="cp" x="284.2" y="1813.5">Component 3</text>
<rect class="ax" style="stroke-linejoin:miter" x="1344.3" y="1735.0" width="750.7" height="573.3"/>
<path class="ax" d="M1451.5 2308.3v13.5M1666.0 2308.3v13.5M1880.5 2308.3v13.5M2095.0 2308.3v13.5M1344.3 2308.3h-16.0M1344.3 2165.0h-16.0M1344.3 2021.7h-16.0M1344.3 1878.3h-16.0M1344.3 1735.0h-16.0"/>
<text class="tk" transform="translate(1451.2 2394.9) scale(0.975 1.015)" text-anchor="middle">300</text>
<text class="tk" transform="translate(1665.7 2394.9) scale(0.975 1.015)" text-anchor="middle">400</text>
<text class="tk" transform="translate(1880.2 2394.9) scale(0.975 1.015)" text-anchor="middle">500</text>
<text class="tk" transform="translate(2094.7 2394.9) scale(0.975 1.015)" text-anchor="middle">600</text>
<text class="tk" transform="translate(1304.0 2326.7) scale(0.975 1.015)" text-anchor="end">0.0</text>
<text class="tk" transform="translate(1304.0 2183.4) scale(0.975 1.015)" text-anchor="end">0.1</text>
<text class="tk" transform="translate(1304.0 2040.1) scale(0.975 1.015)" text-anchor="end">0.2</text>
<text class="tk" transform="translate(1304.0 1896.7) scale(0.975 1.015)" text-anchor="end">0.3</text>
<text class="tk" transform="translate(1304.0 1753.4) scale(0.975 1.015)" text-anchor="end">0.4</text>
<text class="tt" x="1720.5" y="2480.3" text-anchor="middle">Wavelength (nm)</text>
<text class="tt" transform="translate(1162.7 2020.2) rotate(-90)" text-anchor="middle">Loadings</text>
<path class="ln" d="M1353.4 2098.6C1354.5 2094.7 1356.7 2089 1359.2 2077.3C1361.7 2065.6 1364.3 2052.8 1367.2 2034.8C1370.1 2016.8 1372.2 2000.5 1375.1 1979.1C1378 1957.7 1380.2 1938.9 1383.1 1918C1386 1897.1 1388.2 1881 1391.1 1864.9C1394 1848.8 1396.1 1839.4 1399 1830.4C1401.9 1821.4 1404.1 1815.8 1407 1815.8C1409.9 1815.8 1412.1 1822.4 1415 1830.4C1417.9 1838.4 1420.2 1846.9 1422.9 1859.6C1425.6 1872.3 1427.1 1881 1429.5 1899.5C1431.9 1918 1434 1939.6 1436.2 1960.5C1438.4 1981.4 1439.3 1996.6 1441.5 2013.6C1443.7 2030.6 1445.7 2038.8 1448.1 2053.4C1450.5 2068 1452.6 2081 1454.8 2093.2C1457 2105.4 1458.4 2115.4 1460.1 2119.8C1461.8 2124.2 1462.7 2121 1464.1 2117.1C1465.5 2113.2 1466.6 2102.7 1468 2098.6C1469.4 2094.5 1470.5 2094.1 1472 2094.6C1473.5 2095.1 1474.3 2096.8 1476 2101.2C1477.7 2105.6 1479.4 2114.6 1481.3 2118.5C1483.2 2122.4 1484.4 2123.1 1486.6 2122.4C1488.8 2121.7 1490.9 2118.9 1493.3 2114.5C1495.7 2110.1 1497.5 2103.2 1499.9 2098.6C1502.3 2094 1504.1 2091 1506.5 2089.3C1508.9 2087.6 1510.8 2091 1513.2 2089.3C1515.6 2087.6 1517.1 2083.9 1519.8 2080C1522.5 2076.1 1524.6 2071 1527.8 2068C1531 2065 1533.7 2064.8 1537.1 2063.5C1540.5 2062.2 1543 2059.6 1546.4 2060.9C1549.8 2062.2 1552.4 2067.7 1555.6 2070.7C1558.8 2073.7 1560.9 2074.9 1563.6 2077.3C1566.3 2079.7 1567.8 2079.1 1570.2 2084C1572.6 2088.9 1574.2 2096.9 1576.9 2103.9C1579.6 2110.9 1582.1 2116.1 1584.8 2122.4C1587.5 2128.7 1589.1 2131.1 1591.5 2138.4C1593.9 2145.7 1595.4 2153.1 1598.1 2162.3C1600.8 2171.5 1603.2 2179.6 1606.1 2188.8C1609 2198 1611.1 2203.9 1614 2212.7C1616.9 2221.5 1619.1 2227.8 1622 2236.6C1624.9 2245.4 1627.1 2252.2 1630 2260.5C1632.9 2268.8 1635 2274.9 1637.9 2281.7C1640.8 2288.5 1643.2 2293 1645.9 2297.6C1648.6 2302.2 1649.9 2304.9 1652.5 2306.9C1655.1 2308.9 1578.9 2308 1660 2308.3C1741.1 2308.6 2015.2 2308.3 2095 2308.3"/>
<path class="ds" d="M1344.6 2231C1345.3 2229.4 1346.4 2227.3 1348.6 2222.5C1350.8 2217.7 1353.3 2211.8 1356.5 2204.7C1359.7 2197.5 1362.4 2190.8 1365.8 2183.5C1369.2 2176.2 1371.5 2171.5 1375.1 2164.9C1378.7 2158.3 1381.8 2153.1 1385.7 2147.7C1389.6 2142.3 1392.5 2138.6 1396.4 2135.7C1400.3 2132.8 1403.1 2132.9 1407 2131.7C1410.9 2130.5 1414.2 2128.8 1417.6 2129.1C1421 2129.4 1422.7 2129 1425.6 2133.1C1428.5 2137.2 1430.6 2147.2 1433.5 2151.6C1436.4 2156 1438.6 2157.2 1441.5 2157C1444.4 2156.8 1446.6 2154.7 1449.5 2150.3C1452.4 2145.9 1454.5 2142.6 1457.4 2133.1C1460.3 2123.6 1462.5 2111.7 1465.4 2098.6C1468.3 2085.5 1470.4 2075 1473.3 2061.4C1476.2 2047.8 1478.4 2036.9 1481.3 2024.2C1484.2 2011.5 1487.1 1999.7 1489.3 1992.4C1491.5 1985.1 1490.9 1988.3 1493.3 1984.4C1495.7 1980.5 1499 1976.5 1502.6 1971.1C1506.2 1965.7 1509.8 1960.1 1513.2 1955.2C1516.6 1950.3 1518.2 1947.3 1521.1 1944.6C1524 1941.9 1526.2 1940.6 1529.1 1940.6C1532 1940.6 1534.7 1941.9 1537.1 1944.6C1539.5 1947.3 1540 1947.4 1542.4 1955.2C1544.8 1963 1547.4 1975.4 1550.3 1987.1C1553.2 1998.8 1555.4 2006.2 1558.3 2018.9C1561.2 2031.6 1563.9 2044.4 1566.3 2056.1C1568.7 2067.8 1569.2 2069.9 1571.6 2082.6C1574 2095.2 1576.6 2109 1579.5 2125.1C1582.4 2141.2 1584.6 2154.6 1587.5 2170.2C1590.4 2185.8 1592.6 2195.9 1595.5 2210C1598.4 2224.1 1600.5 2234.1 1603.4 2247.2C1606.3 2260.3 1608.7 2271.2 1611.4 2281.7C1614.1 2292.2 1616.1 2299.4 1618 2304.3C1619.9 2309.2 1534.5 2307.6 1622 2308.3C1709.5 2309 2008.3 2308.3 2095 2308.3"/>
<rect class="ax" style="stroke-linejoin:round;stroke-width:3.8" x="1726" y="48.5" width="343.4" height="134" fill="#fff"/>
<path class="ln" d="M1743 89.2H1840.5"/>
<path class="ds" style="stroke-dasharray:9.4 10.9" d="M1743.6 141.5H1836"/>
<text class="lg" x="1865.3" y="104">Excitation</text>
<text class="lg" x="1865.3" y="155.6">Emission</text>
</g>
</svg></body></html>
